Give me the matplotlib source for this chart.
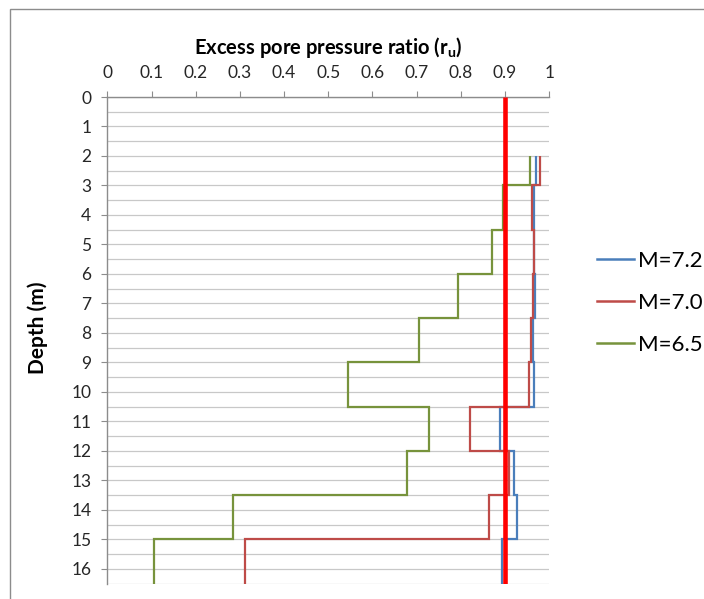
import matplotlib
matplotlib.use("Agg")
import matplotlib.pyplot as plt
from matplotlib.patches import Rectangle
from matplotlib.ticker import MultipleLocator
from matplotlib.lines import Line2D

plt.rcParams['font.family'] = ['Lato', 'DejaVu Sans']
plt.rcParams['mathtext.fontset'] = 'custom'
plt.rcParams['mathtext.rm'] = 'Lato'
plt.rcParams['mathtext.bf'] = 'Lato:bold'

# ---- data ----
depth_edges = [2, 3, 4.5, 6, 7.5, 9, 10.5, 12, 13.5, 15, 16.5]
ru_M72 = [0.969, 0.965, 0.966, 0.967, 0.962, 0.965, 0.889, 0.920, 0.927, 0.893]
ru_M70 = [0.979, 0.960, 0.966, 0.962, 0.958, 0.953, 0.821, 0.909, 0.864, 0.312]
ru_M65 = [0.957, 0.895, 0.870, 0.794, 0.706, 0.544, 0.728, 0.677, 0.285, 0.106]
labels = ["M=7.2", "M=7.0", "M=6.5"]
colors = ["#4A7EBB", "#BE4B48", "#77933C"]
threshold = 0.9
x_ticks = [0, 0.1, 0.2, 0.3, 0.4, 0.5, 0.6, 0.7, 0.8, 0.9, 1]
x_ticklabels = ["0", "0.1", "0.2", "0.3", "0.4", "0.5", "0.6", "0.7", "0.8", "0.9", "1"]
y_ticks = list(range(0, 17))

W, H = 704, 599
fig = plt.figure(figsize=(W / 100, H / 100), dpi=100)
ax = fig.add_axes([107.3 / W, 1 - 583.5 / H, 442 / W, (583.5 - 97) / H])

# outer chart border
fig.patches.append(Rectangle((9.5 / W, -0.1), 1.2, 1 - 8.5 / H + 0.1,
                             transform=fig.transFigure, fill=False,
                             edgecolor="#8C8C8C", linewidth=1.0))

for vals, c in zip([ru_M72, ru_M70, ru_M65], colors):
    ax.stairs(vals, depth_edges, orientation='horizontal', baseline=None,
              color=c, linewidth=1.6, zorder=3)

ax.plot([threshold, threshold], [0, 16.5], color="#FF0000", linewidth=3.3, zorder=5,
        solid_capstyle='butt')

ax.set_xlim(0, 1)
ax.set_ylim(16.5, 0)
ax.xaxis.tick_top()
ax.set_xticks(x_ticks)
ax.set_xticklabels(x_ticklabels)
ax.set_yticks(y_ticks)
ax.yaxis.set_minor_locator(MultipleLocator(0.5))
ax.grid(True, axis='y', which='both', color="#C8C8C8", linewidth=0.9, zorder=0)
ax.set_axisbelow(True)

for s in ['right', 'bottom']:
    ax.spines[s].set_visible(False)
for s in ['left', 'top']:
    ax.spines[s].set_color("#8C8C8C")
    ax.spines[s].set_linewidth(1.0)

ax.tick_params(axis='x', which='major', direction='out', length=4.5, width=0.8,
               color="#8C8C8C", labelsize=12.5, labelcolor="#262626", pad=7)
ax.tick_params(axis='y', which='major', direction='out', length=4.5, width=0.8,
               color="#8C8C8C", labelsize=12.5, labelcolor="#262626", pad=7)
ax.tick_params(axis='y', which='minor', length=0)

fig.text(328 / W, 1 - 47 / H, r"Excess pore pressure ratio (r$_{\mathbf{u}}$)",
         ha='center', va='center', fontsize=14.5, fontweight='bold', color="#000000")
ax.set_ylabel("Depth (m)", fontsize=15, fontweight='bold', color="#000000")
ax.yaxis.set_label_coords(-0.134, 0.525)

handles = [Line2D([0], [0], color=c, linewidth=1.8) for c in colors]
fig.legend(handles, labels, loc='center left', bbox_to_anchor=(597 / W, 1 - 303 / H),
           frameon=False, fontsize=16, handlelength=1.65, handletextpad=0.2,
           labelspacing=1.0, borderaxespad=0, borderpad=0)

fig.savefig("out.png", dpi=100)
